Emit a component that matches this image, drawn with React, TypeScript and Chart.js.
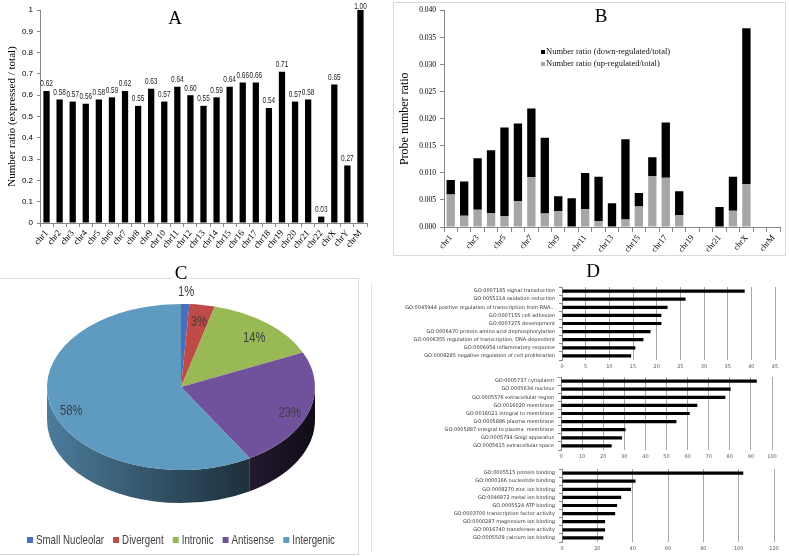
import React, { useEffect, useRef } from "react";
import { Chart, registerables } from "chart.js";

Chart.register(...registerables);

// ---------- DATA ----------
const chromosomes = [
  "chr1", "chr2", "chr3", "chr4", "chr5", "chr6", "chr7", "chr8", "chr9", "chr10",
  "chr11", "chr12", "chr13", "chr14", "chr15", "chr16", "chr17", "chr18", "chr19", "chr20",
  "chr21", "chr22", "chrX", "chrY", "chrM",
];
const expressedRatio = [
  0.62, 0.58, 0.57, 0.56, 0.58, 0.59, 0.62, 0.55, 0.63, 0.57,
  0.64, 0.60, 0.55, 0.59, 0.64, 0.66, 0.66, 0.54, 0.71, 0.57,
  0.58, 0.03, 0.65, 0.27, 1.00,
];
const upRegulatedRatio = [
  0.0060, 0.0021, 0.0032, 0.0026, 0.0020, 0.0048, 0.0092, 0.0025, 0.0029, 0,
  0.0033, 0.0011, 0, 0.0014, 0.0038, 0.0094, 0.0091, 0.0022, 0, 0,
  0, 0.0030, 0.0079, 0, 0,
];
const downRegulatedRatio = [
  0.0027, 0.0063, 0.0095, 0.0116, 0.0164, 0.0143, 0.0127, 0.0140, 0.0028, 0.0053,
  0.0067, 0.0082, 0.0044, 0.0148, 0.0025, 0.0035, 0.0102, 0.0044, 0, 0,
  0.0037, 0.0063, 0.0288, 0, 0,
];

const locusTypes = ["Small Nucleolar", "Divergent", "Intronic", "Antisense", "Intergenic"];
const locusPercent = [1, 3, 14, 23, 58];
const locusColors = ["#4A6FBE", "#BE4B48", "#98B954", "#70519C", "#5F9BC0"];

const bpTerms = [
  "GO:0007165 signal transduction",
  "GO:0055114 oxidation reduction",
  "GO:0045944 positive regulation of transcription from RNA...",
  "GO:0007155 cell adhesion",
  "GO:0007275 development",
  "GO:0006470 protein amino acid dephosphorylation",
  "GO:0006355 regulation of transcription, DNA-dependent",
  "GO:0006954 inflammatory response",
  "GO:0008285 negative regulation of cell proliferation",
];
const bpCounts = [38.6, 26.1, 22.3, 21, 21, 18.7, 17.2, 15.5, 14.6];

const ccTerms = [
  "GO:0005737 cytoplasm",
  "GO:0005634 nucleus",
  "GO:0005576 extracellular region",
  "GO:0016020 membrane",
  "GO:0016021 integral to membrane",
  "GO:0005886 plasma membrane",
  "GO:0005887 integral to plasma  membrane",
  "GO:0005794 Golgi apparatus",
  "GO:0005615 extracellular space",
];
const ccCounts = [92.8, 80.4, 77.9, 64.6, 61, 54.7, 30.6, 28.9, 24];

const mfTerms = [
  "GO:0005515 protein binding",
  "GO:0000166 nucleotide binding",
  "GO:0008270 zinc ion binding",
  "GO:0046872 metal ion binding",
  "GO:0005524 ATP binding",
  "GO:0003700 transcription factor activity",
  "GO:0000287 magnesium ion binding",
  "GO:0016740 transferase activity",
  "GO:0005509 calcium ion binding",
];
const mfCounts = [102.6, 41.6, 39.1, 33.5, 31.2, 30.1, 24.4, 24.4, 23.4];

// ---------- STYLE ----------
const SERIF = "'Liberation Serif', 'Times New Roman', serif";
const SANS = "'Liberation Sans', Arial, sans-serif";
const SMALL = "'DejaVu Sans', Verdana, sans-serif";
const AXIS = "#868686";

function shade(hex: string, f: number) {
  const n = parseInt(hex.slice(1), 16);
  const r = Math.round(((n >> 16) & 255) * f);
  const g = Math.round(((n >> 8) & 255) * f);
  const b = Math.round((n & 255) * f);
  return `rgb(${r},${g},${b})`;
}

// draw text horizontally condensed (Calibri-like look)
function narrowText(ctx: CanvasRenderingContext2D, text: string, x: number, y: number, sx: number) {
  ctx.save();
  ctx.translate(x, y);
  ctx.scale(sx, 1);
  ctx.fillText(text, 0, 0);
  ctx.restore();
}

// ---------- PLUGINS ----------
const barValueLabels = {
  id: "barValueLabels",
  afterDatasetsDraw(chart: any) {
    const ctx = chart.ctx;
    const meta = chart.getDatasetMeta(0);
    const values = chart.data.datasets[0].data as number[];
    ctx.save();
    ctx.font = `8.5px ${SANS}`;
    ctx.fillStyle = "#222";
    ctx.textAlign = "center";
    ctx.textBaseline = "middle";
    meta.data.forEach((bar: any, i: number) => {
      narrowText(ctx, values[i].toFixed(2), bar.x, Math.max(bar.y - 7, 7), 0.76);
    });
    ctx.restore();
  },
};

const innerLegend = {
  id: "innerLegend",
  afterDraw(chart: any, _a: any, o: any) {
    const ctx = chart.ctx;
    const ds = chart.data.datasets.slice().reverse();
    ctx.save();
    ctx.font = `8.5px ${SERIF}`;
    ctx.textBaseline = "middle";
    ctx.textAlign = "left";
    ds.forEach((d: any, i: number) => {
      const y = o.y + i * o.gap;
      ctx.fillStyle = d.backgroundColor;
      ctx.fillRect(o.x, y - 2, 4, 4);
      ctx.fillStyle = "#111";
      ctx.fillText(d.label, o.x + 5, y);
    });
    ctx.restore();
  },
};

const pie3d = {
  id: "pie3d",
  beforeDatasetsDraw(chart: any, _a: any, o: any) {
    const ctx = chart.ctx;
    const arcs = chart.getDatasetMeta(0).data as any[];
    if (!arcs.length) return;
    const r = arcs[0].outerRadius;
    const ry = r * o.k;
    const colors = chart.data.datasets[0].backgroundColor as string[];
    arcs.forEach((arc: any, i: number) => {
      const a1 = Math.max(arc.startAngle, 0);
      const a2 = Math.min(arc.endAngle, Math.PI);
      if (a2 <= a1) return;
      const g = ctx.createLinearGradient(o.cx - r, 0, o.cx + r, 0);
      g.addColorStop(0, shade(colors[i], 0.8));
      g.addColorStop(1, shade(colors[i], 0.15));
      ctx.beginPath();
      ctx.ellipse(o.cx, o.cy, r, ry, 0, a1, a2, false);
      ctx.ellipse(o.cx, o.cy + o.depth, r, ry, 0, a2, a1, true);
      ctx.closePath();
      ctx.fillStyle = g;
      ctx.fill();
    });
    ctx.save();
    ctx.translate(o.cx, o.cy);
    ctx.scale(1, o.k);
    ctx.translate(-arcs[0].x, -arcs[0].y);
  },
  afterDatasetsDraw(chart: any, _a: any, o: any) {
    const ctx = chart.ctx;
    const arcs = chart.getDatasetMeta(0).data as any[];
    if (!arcs.length) return;
    ctx.restore();
    const r = arcs[0].outerRadius;
    const values = chart.data.datasets[0].data as number[];
    ctx.save();
    ctx.font = `15px ${SANS}`;
    ctx.fillStyle = "#404040";
    ctx.textAlign = "center";
    ctx.textBaseline = "middle";
    arcs.forEach((arc: any, i: number) => {
      const m = (arc.startAngle + arc.endAngle) / 2;
      const f = values[i] < 2 ? 1.2 : 0.85;
      narrowText(ctx, `${values[i]}%`, o.cx + f * r * Math.cos(m), o.cy + f * r * o.k * Math.sin(m) + 5, 0.75);
    });
    ctx.restore();
  },
  afterDraw(chart: any, _a: any, o: any) {
    const ctx = chart.ctx;
    const labels = chart.data.labels as string[];
    const colors = chart.data.datasets[0].backgroundColor as string[];
    const sx = 0.72;
    ctx.save();
    ctx.font = `13.5px ${SANS}`;
    ctx.textBaseline = "middle";
    ctx.textAlign = "left";
    const box = 6, gap1 = 3, gap2 = 9;
    const widths = labels.map((l) => ctx.measureText(l).width * sx);
    const total = widths.reduce((s, w) => s + box + gap1 + w, 0) + gap2 * (labels.length - 1);
    let x = o.cx - total / 2;
    labels.forEach((l, i) => {
      ctx.fillStyle = colors[i];
      ctx.fillRect(x, o.legendY - box / 2, box, box);
      x += box + gap1;
      ctx.fillStyle = "#404040";
      narrowText(ctx, l, x, o.legendY, sx);
      x += widths[i] + gap2;
    });
    ctx.restore();
  },
};

// ---------- CONFIGS ----------
const configA = () => ({
  type: "bar",
  data: {
    labels: chromosomes,
    datasets: [{ data: expressedRatio, backgroundColor: "#000", barPercentage: 0.48, categoryPercentage: 1 }],
  },
  options: {
    responsive: false,
    animation: false,
    layout: { padding: { left: 0, right: 23, top: 10, bottom: 0 } },
    plugins: { legend: { display: false }, tooltip: { enabled: false } },
    scales: {
      x: {
        grid: { drawOnChartArea: false, color: AXIS, tickLength: 4, offset: true },
        border: { color: AXIS },
        ticks: { autoSkip: false, minRotation: 50, maxRotation: 50, font: { family: SERIF, size: 9 }, color: "#000", padding: 1 },
        afterFit: (s: any) => { s.height = 55; },
      },
      y: {
        min: 0,
        max: 1,
        ticks: {
          stepSize: 0.1,
          font: { family: SANS, size: 8 },
          color: "#000",
          padding: 4,
          callback: (v: any) => (v === 0 ? "0" : v === 1 ? "1" : Number(v).toFixed(1)),
        },
        grid: { drawOnChartArea: false, color: AXIS, tickLength: 3 },
        border: { color: AXIS },
        title: { display: true, text: "Number ratio (expressed / total)", font: { family: SERIF, size: 11 }, color: "#000", padding: { top: 6, bottom: 0 } },
        afterFit: (s: any) => { s.width = 40; },
      },
    },
  },
  plugins: [barValueLabels],
});

const configB = () => ({
  type: "bar",
  data: {
    labels: chromosomes,
    datasets: [
      { label: "Number ratio (up-regulated/total)", data: upRegulatedRatio, backgroundColor: "#A6A6A6", barPercentage: 0.62, categoryPercentage: 1 },
      { label: "Number ratio (down-regulated/total)", data: downRegulatedRatio, backgroundColor: "#000000", barPercentage: 0.62, categoryPercentage: 1 },
    ],
  },
  options: {
    responsive: false,
    animation: false,
    layout: { padding: { left: 0, right: 5, top: 5, bottom: 0 } },
    plugins: {
      legend: { display: false },
      tooltip: { enabled: false },
      innerLegend: { x: 148, y: 50, gap: 12 },
    },
    scales: {
      x: {
        stacked: true,
        grid: { drawOnChartArea: false, color: AXIS, tickLength: 5, offset: true },
        border: { color: AXIS },
        ticks: {
          autoSkip: false,
          minRotation: 50,
          maxRotation: 50,
          font: { family: SERIF, size: 8.5 },
          color: "#000",
          padding: 1,
          callback: (_v: any, i: number) => (i % 2 === 0 ? chromosomes[i] : ""),
        },
        afterFit: (s: any) => { s.height = 28; },
      },
      y: {
        stacked: true,
        min: 0,
        max: 0.04,
        ticks: { stepSize: 0.005, font: { family: SERIF, size: 7.5 }, color: "#000", padding: 4, callback: (v: any) => Number(v).toFixed(3) },
        grid: { drawOnChartArea: false, color: AXIS, tickLength: 4 },
        border: { color: AXIS },
        title: { display: true, text: "Probe number ratio", font: { family: SERIF, size: 12 }, color: "#000", padding: { top: 5, bottom: 0 } },
        afterFit: (s: any) => { s.width = 51; },
      },
    },
  },
  plugins: [innerLegend],
});

const configC = () => ({
  type: "pie",
  data: {
    labels: locusTypes,
    datasets: [{ data: locusPercent, backgroundColor: locusColors, borderWidth: 0, clip: false }],
  },
  options: {
    responsive: false,
    animation: false,
    layout: { padding: { top: 3, bottom: 3, left: 0, right: 0 } },
    plugins: {
      legend: { display: false },
      tooltip: { enabled: false },
      pie3d: { cx: 181, cy: 108, k: 0.62, depth: 33, legendY: 261 },
    },
  },
  plugins: [pie3d],
});

const goConfig = (terms: string[], counts: number[], max: number, step: number, axisLeft: number, rightPad: number) => () => ({
  type: "bar",
  data: {
    labels: terms,
    datasets: [{ data: counts, backgroundColor: "#000", barPercentage: 0.4, categoryPercentage: 1 }],
  },
  options: {
    indexAxis: "y",
    responsive: false,
    animation: false,
    layout: { padding: { left: 0, right: rightPad, top: 5, bottom: 0 } },
    plugins: { legend: { display: false }, tooltip: { enabled: false } },
    scales: {
      x: {
        min: 0,
        max,
        ticks: { stepSize: step, font: { family: SMALL, size: 5 }, color: "#595959", padding: 4 },
        grid: { color: "#A6A6A6", drawTicks: false },
        border: { display: false },
        afterFit: (s: any) => { s.height = 12; },
      },
      y: {
        ticks: { autoSkip: false, font: { family: SMALL, size: 5 }, color: "#333", padding: 4 },
        grid: { drawOnChartArea: false, color: AXIS, tickLength: 3, offset: true },
        border: { color: AXIS },
        afterFit: (s: any) => { s.width = axisLeft; },
      },
    },
  },
});

// ---------- COMPONENTS ----------
function ChartCanvas({ make, left, top, width, height }: any) {
  const ref = useRef<HTMLCanvasElement>(null);
  useEffect(() => {
    const chart = new Chart(ref.current as HTMLCanvasElement, make() as any);
    return () => chart.destroy();
  }, []);
  return (
    <canvas
      ref={ref}
      width={width}
      height={height}
      style={{ position: "absolute", left, top, width, height }}
    />
  );
}

function Letter({ text, x, y, bg }: any) {
  return (
    <div
      style={{
        position: "absolute",
        left: x,
        top: y,
        transform: "translate(-50%, -50%)",
        fontFamily: SERIF,
        fontSize: 19,
        lineHeight: "19px",
        color: "#000",
        background: bg ? "#fff" : "transparent",
        padding: "0 3px",
      }}
    >
      {text}
    </div>
  );
}

export default function App() {
  return (
    <div style={{ position: "absolute", left: 0, top: 0, width: 789, height: 556, overflow: "hidden", background: "#fff" }}>
      <div style={{ position: "absolute", left: 393, top: 2, width: 391, height: 252, border: "1px solid #D9D9D9" }} />
      <div style={{ position: "absolute", left: 0, top: 278, width: 358, height: 275, border: "1px solid #D9D9D9", borderLeft: "none" }} />
      <div style={{ position: "absolute", left: 371, top: 283, width: 0, height: 270, borderLeft: "1px solid #E3E3E3" }} />

      <ChartCanvas make={configA} left={0} top={0} width={390} height={278} />
      <ChartCanvas make={configB} left={393} top={2} width={392} height={253} />
      <ChartCanvas make={configC} left={0} top={279} width={359} height={274} />
      <ChartCanvas make={goConfig(bpTerms, bpCounts, 45, 5, 202, 14)} left={360} top={280} width={429} height={92} />
      <ChartCanvas make={goConfig(ccTerms, ccCounts, 100, 10, 201, 17)} left={360} top={370} width={429} height={92} />
      <ChartCanvas make={goConfig(mfTerms, mfCounts, 120, 20, 202, 15)} left={360} top={462} width={429} height={92} />

      <Letter text="A" x={175} y={17} />
      <Letter text="B" x={601} y={15} />
      <Letter text="C" x={181} y={272} bg />
      <Letter text="D" x={593} y={270} />
    </div>
  );
}
